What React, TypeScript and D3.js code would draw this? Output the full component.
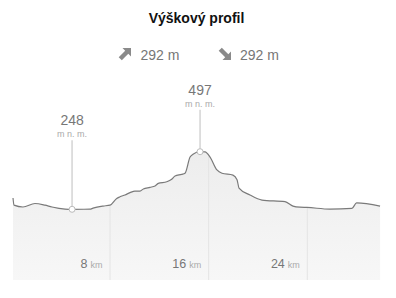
import React from "react";
import * as d3 from "d3";

const distanceKm = [0.13, 0.21, 0.94, 1.91, 2.72, 3.29, 4.35, 4.92, 6.37, 6.62, 7.43, 8.0, 8.54, 8.81, 9.21, 9.62, 10.02, 10.43, 10.7, 11.24, 11.65, 11.91, 12.6, 13.0, 13.27, 13.81, 14.08, 14.49, 14.73, 15.3, 15.7, 16.1, 16.67, 17.08, 17.97, 18.3, 18.46, 19.35, 20.32, 22.19, 22.84, 23.4, 23.97, 25.84, 27.62, 28.0, 29.9];
const elevationM = [297, 266, 258, 273, 266, 258, 249, 248, 248.5, 253, 262, 266, 295, 302, 310, 320, 327, 327, 336, 343, 349, 360, 367, 378, 392, 399, 404, 474, 486, 497, 496, 475, 418, 404, 396, 376, 340, 310, 288, 281, 262, 257, 256, 249, 252, 276, 262];

const xTicks = [8, 16, 24];
const xTickUnit = "km";
const annotationKm = [4.92, 15.3];
const annotationElev = [248, 497];
const annotationUnit = "m n. m.";
const title = "Výškový profil";
const ascent = "292 m";
const descent = "292 m";

const W = 396;
const H = 298;
const FONT = "'Liberation Sans', Arial, sans-serif";

export default function App() {
  const x = d3.scaleLinear().domain([0, 30]).range([11.4, 381.3]);
  const y = d3.scaleLinear().domain([248, 497]).range([209.3, 151.7]);
  const bottom = 280;
  const data = distanceKm.map((d, i) => ({ d, e: elevationM[i] }));
  const area = d3
    .area<{ d: number; e: number }>()
    .x((p) => x(p.d))
    .y0(bottom)
    .y1((p) => y(p.e))
    .curve(d3.curveMonotoneX);
  const line = d3
    .line<{ d: number; e: number }>()
    .x((p) => x(p.d))
    .y((p) => y(p.e))
    .curve(d3.curveMonotoneX);
  const areaPath = area(data) || "";
  const lineLens = [69, 42];

  return (
    <div style={{ position: "absolute", left: 0, top: 0 }}>
      <svg width={W} height={H} style={{ display: "block", fontFamily: FONT }}>
        <defs>
          <linearGradient id="areaGrad" x1="0" y1="0" x2="0" y2="1">
            <stop offset="0%" stopColor="#ededed" />
            <stop offset="100%" stopColor="#f7f7f7" />
          </linearGradient>
          <clipPath id="areaClip">
            <path d={areaPath} />
          </clipPath>
        </defs>
        <rect width={W} height={H} fill="#fff" />
        <text x={196.5} y={23} textAnchor="middle" fontSize={14} fontWeight="bold" fill="#111">
          {title}
        </text>
        <path d="M131,48 L131,56.5 L128.3,53.8 L121.8,60.3 L118.7,57.2 L125.2,50.7 L122.5,48 Z" fill="#8a8a8a" />
        <text x={140.5} y={60} fontSize={14} fill="#777">{ascent}</text>
        <path d="M231,60 L231,51.5 L228.3,54.2 L221.8,47.7 L218.7,50.8 L225.2,57.3 L222.5,60 Z" fill="#8a8a8a" />
        <text x={240} y={60} fontSize={14} fill="#777">{descent}</text>

        <path d={areaPath} fill="url(#areaGrad)" />
        <g clipPath="url(#areaClip)">
          {xTicks.map((t) => (
            <line key={t} x1={x(t)} x2={x(t)} y1={100} y2={bottom} stroke="#e4e4e4" strokeWidth={1} />
          ))}
        </g>
        <path d={line(data) || ""} fill="none" stroke="#7a7a7a" strokeWidth={1.2} />

        {xTicks.map((t) => (
          <text key={t} x={x(t) - 7.5} y={268} textAnchor="end" fill="#777" fontSize={12.5}>
            {t}
            <tspan fontSize={9} fill="#aaa" dx={3}>{xTickUnit}</tspan>
          </text>
        ))}

        {annotationKm.map((k, i) => {
          const px = x(k);
          const py = y(annotationElev[i]);
          const top = py - lineLens[i];
          return (
            <g key={k}>
              <line x1={px} x2={px} y1={top} y2={py - 3} stroke="#d4d4d4" strokeWidth={1.5} />
              <circle cx={px} cy={py} r={3} fill="#fff" stroke="#bbb" strokeWidth={1} />
              <text x={px} y={top - 3} textAnchor="middle" fontSize={9} fill="#aaa">{annotationUnit}</text>
              <text x={px} y={top - 15} textAnchor="middle" fontSize={14} fill="#777">{annotationElev[i]}</text>
            </g>
          );
        })}
      </svg>
    </div>
  );
}
